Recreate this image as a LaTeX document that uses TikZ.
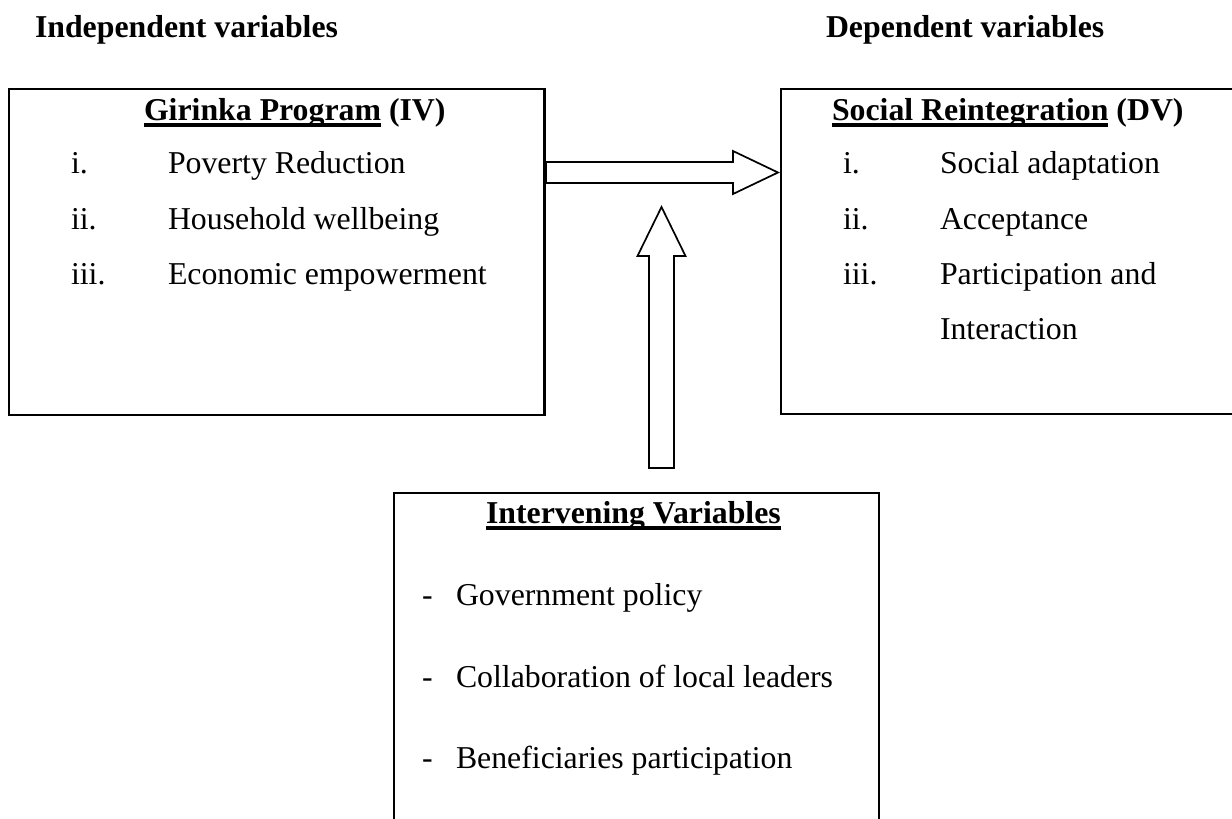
\documentclass[tikz,border=0pt]{standalone}
\usepackage{fontspec}
\setmainfont{Liberation Serif}
\usetikzlibrary{calc}
\begin{document}
\begin{tikzpicture}[x=1pt,y=-1pt,
  box/.style={draw,line width=2.2pt,inner sep=0pt,outer sep=0pt},
  txt/.style={anchor=base west,inner sep=0pt,outer sep=0pt,font=\fontsize{31.8}{38}\selectfont},
  btxt/.style={anchor=base west,inner sep=0pt,outer sep=0pt,font=\fontsize{31.8}{38}\selectfont\bfseries},
  uline/.style={line width=3.2pt},
  blockarrow/.style={draw,line width=1.7pt,fill=white,line join=miter}]
\useasboundingbox (0,0) rectangle (1232,819);
\clip (0,0) rectangle (1232,819);

% headings
\node[btxt] (ih) at (35,37) {Independent variables};
\node[btxt] (dh) at (826,37) {Dependent variables};

% boxes
\node[box,anchor=north west,minimum width=535.5pt,minimum height=326pt] (iv) at (9,89) {};
\node[box,anchor=north west,minimum width=480pt,minimum height=325pt] (dv) at (781,89) {};
\node[box,anchor=north west,minimum width=485pt,minimum height=360pt] (inv) at (394,493) {};

% left box text
\node[btxt] (ivt) at (144,120) {Girinka Program};
\node[btxt] (ivx) at ($(ivt.base east)+(8,0)$) {(IV)};
\draw[uline] ($(ivt.base west)+(0,5)$) -- ($(ivt.base east)+(0,5)$);
\node[txt] (ivn1) at (71,173.5) {i.};
\node[txt] (ivi1) at (168,173.5) {Poverty Reduction};
\node[txt] (ivn2) at (71,229) {ii.};
\node[txt] (ivi2) at (168,229) {Household wellbeing};
\node[txt] (ivn3) at (71,284) {iii.};
\node[txt] (ivi3) at (168,284) {Economic empowerment};

% right box text
\node[btxt] (dvt) at (832,120) {Social Reintegration};
\node[btxt] (dvx) at ($(dvt.base east)+(8,0)$) {(DV)};
\draw[uline] ($(dvt.base west)+(0,5)$) -- ($(dvt.base east)+(0,5)$);
\node[txt] (dvn1) at (843,173.5) {i.};
\node[txt] (dvi1) at (940,173.5) {Social adaptation};
\node[txt] (dvn2) at (843,229) {ii.};
\node[txt] (dvi2) at (940,229) {Acceptance};
\node[txt] (dvn3) at (843,284) {iii.};
\node[txt] (dvi3) at (940,284) {Participation and};
\node[txt] (dvi4) at (940,339) {Interaction};

% bottom box text
\node[btxt] (invt) at (486,523) {Intervening Variables};
\draw[uline] ($(invt.base west)+(0,5)$) -- ($(invt.base east)+(0,5)$);
\node[txt] (invd1) at (422,605) {-};
\node[txt] (invi1) at (456,605) {Government policy};
\node[txt] (invd2) at (422,687) {-};
\node[txt] (invi2) at (456,687) {Collaboration of local leaders};
\node[txt] (invd3) at (422,768) {-};
\node[txt] (invi3) at (456,768) {Beneficiaries participation};

% horizontal block arrow from IV to DV
\path (iv.north east) ++(1.5,83.5) coordinate (hs);
\path (dv.north west) ++(-3,83.5) coordinate (ht);
\draw[blockarrow] ($(hs)+(0,-10.5)$) -- ($(ht)+(-45,-10.5)$) -- ($(ht)+(-45,-21.5)$)
  -- (ht) -- ($(ht)+(-45,21.5)$) -- ($(ht)+(-45,10.5)$) -- ($(hs)+(0,10.5)$) -- cycle;

% vertical block arrow from intervening box upwards
\path (inv.north) ++(25,-25) coordinate (vs);
\path (vs) ++(0,-261) coordinate (vt);
\draw[blockarrow] ($(vs)+(-12.5,0)$) -- ($(vt)+(-12.5,49)$) -- ($(vt)+(-24,49)$)
  -- (vt) -- ($(vt)+(24,49)$) -- ($(vt)+(12.5,49)$) -- ($(vs)+(12.5,0)$) -- cycle;
\end{tikzpicture}
\end{document}
